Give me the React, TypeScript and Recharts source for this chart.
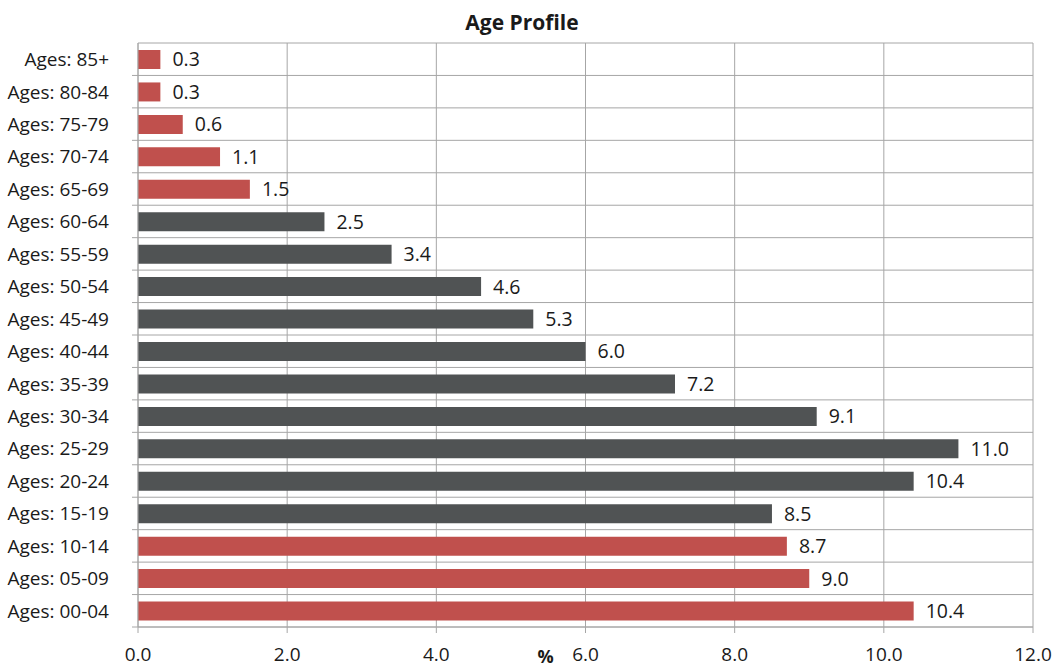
import { BarChart, Bar, XAxis, YAxis, CartesianGrid, Cell, LabelList } from 'recharts';

const AGE_GROUPS = [
  'Ages: 85+', 'Ages: 80-84', 'Ages: 75-79', 'Ages: 70-74', 'Ages: 65-69', 'Ages: 60-64',
  'Ages: 55-59', 'Ages: 50-54', 'Ages: 45-49', 'Ages: 40-44', 'Ages: 35-39', 'Ages: 30-34',
  'Ages: 25-29', 'Ages: 20-24', 'Ages: 15-19', 'Ages: 10-14', 'Ages: 05-09', 'Ages: 00-04',
];
const PERCENTS = [0.3, 0.3, 0.6, 1.1, 1.5, 2.5, 3.4, 4.6, 5.3, 6.0, 7.2, 9.1, 11.0, 10.4, 8.5, 8.7, 9.0, 10.4];
// dependent = children and the elderly (drawn red), the rest is working age
const GROUPS = [
  'dependent', 'dependent', 'dependent', 'dependent', 'dependent', 'working',
  'working', 'working', 'working', 'working', 'working', 'working',
  'working', 'working', 'working', 'dependent', 'dependent', 'dependent',
];
const X_TICKS = [0, 2, 4, 6, 8, 10, 12];

const COLORS: Record<string, string> = { dependent: '#c0504d', working: '#505354' };
const GRID = '#a6a6a6';
const FONT = '"Open Sans", sans-serif';

const W = 1054;
const H = 668;
const TOP = 43;
const BOTTOM = 41;
const LEFT = 138;
const RIGHT = 21;
const PLOT_H = H - TOP - BOTTOM;

const data = AGE_GROUPS.map((age, i) => ({ age, value: PERCENTS[i], group: GROUPS[i] }));
const rowLines = AGE_GROUPS.map((_, i) => TOP + (i * PLOT_H) / AGE_GROUPS.length).concat(TOP + PLOT_H);

// eslint-disable-next-line @typescript-eslint/no-explicit-any
function AgeTick(props: any) {
  const { x, y, payload } = props;
  const half = payload?.offset || PLOT_H / AGE_GROUPS.length / 2;
  return (
    <g>
      <line x1={LEFT - 6} x2={LEFT} y1={y + half} y2={y + half} stroke={GRID} />
      <text x={x - 21} y={y} dy="0.36em" textAnchor="end" fill="#1a1a1a" fontSize={19} fontFamily={FONT}>
        {payload.value}
      </text>
    </g>
  );
}

export default function App() {
  return (
    <div style={{ position: 'absolute', left: 0, top: 0, width: W, height: H, background: '#fff' }}>
      <div
        style={{
          position: 'absolute', left: 0, top: 8, width: 1044, textAlign: 'center',
          fontFamily: FONT, fontWeight: 700, fontSize: 21, color: '#1a1a1a',
        }}
      >
        Age Profile
      </div>
      <BarChart
        width={W}
        height={H}
        data={data}
        layout="vertical"
        margin={{ top: TOP, right: RIGHT, bottom: 0, left: 0 }}
      >
        <CartesianGrid stroke={GRID} horizontalPoints={rowLines} />
        <XAxis
          type="number"
          domain={[0, 12]}
          ticks={X_TICKS}
          height={BOTTOM}
          tickFormatter={(v: number) => v.toFixed(1)}
          stroke={GRID}
          tickSize={6}
          tickMargin={15}
          tick={{ fill: '#1a1a1a', fontSize: 19, fontFamily: FONT }}
          label={{ value: '%', position: 'insideBottom', offset: 5, dx: -40, fill: '#1a1a1a', fontSize: 18, fontWeight: 700, fontFamily: FONT }}
        />
        <YAxis
          type="category"
          dataKey="age"
          width={LEFT}
          stroke={GRID}
          tickLine={false}
          tick={<AgeTick />}
          interval={0}
        />
        <Bar dataKey="value" barSize={19} isAnimationActive={false}>
          {data.map((d) => (
            <Cell key={d.age} fill={COLORS[d.group]} />
          ))}
          <LabelList
            dataKey="value"
            position="right"
            offset={12}
            formatter={(v: number) => Number(v).toFixed(1)}
            fill="#1a1a1a"
            fontSize={19.5}
            fontFamily={FONT}
          />
        </Bar>
      </BarChart>
    </div>
  );
}
